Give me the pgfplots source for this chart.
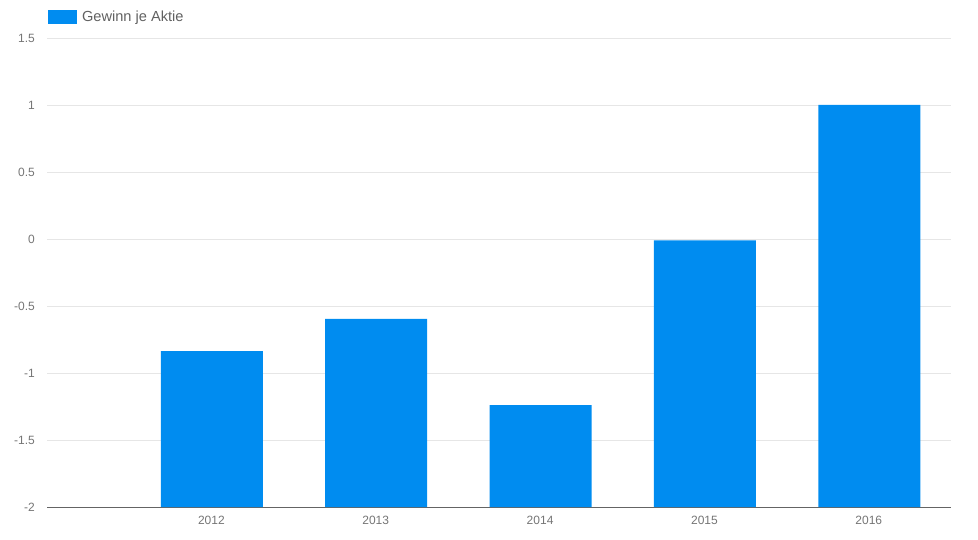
\documentclass[border=0pt]{standalone}
\usepackage{pgfplots}
\pgfplotsset{compat=1.18}
\usepackage{fontspec}
\setmainfont{Liberation Sans}
\definecolor{barblue}{RGB}{0,140,240}
\definecolor{gridgray}{RGB}{230,230,230}
\definecolor{ticktext}{RGB}{117,117,117}
\definecolor{legtext}{RGB}{97,97,97}
\definecolor{axisgray}{RGB}{100,100,100}
\begin{document}
\begin{tikzpicture}[x=1pt,y=1pt]
\path[use as bounding box] (0,0) rectangle (978,539);
\begin{axis}[
  at={(47pt,32pt)}, anchor=south west,
  scale only axis, width=904pt, height=469pt,
  xmin=0, xmax=5.5, ymin=0, ymax=3.5,
  xtick={1,2,3,4,5},
  xticklabels={2012,2013,2014,2015,2016},
  ytick={0,0.5,1,1.5,2,2.5,3,3.5},
  yticklabels={-2,-1.5,-1,-0.5,0,0.5,1,1.5},
  axis lines*=left,
  y axis line style={draw=none},
  x axis line style={draw=axisgray, line width=1pt},
  major tick length=0pt,
  ymajorgrids, grid style={gridgray, line width=0.8pt},
  tick label style={font=\fontsize{12}{14}\selectfont, text=ticktext},
  yticklabel style={anchor=east, inner sep=0pt, xshift=-12pt},
  xticklabel style={anchor=north, inner sep=0pt, yshift=-9pt},
  ybar, bar width=102pt, bar shift=0.5pt,
  legend style={at={(0.001,1.045)}, anchor=west, draw=none, fill=none,
    inner sep=0pt, font=\fontsize{14.6}{16}\selectfont, text=legtext},
  legend image code/.code={\fill[barblue] (0pt,-7pt) rectangle (29pt,7pt);},
  legend cell align=left,
]
\addplot[fill=barblue, draw=none] table[x=x, y expr=\thisrow{v}+2] {
x v
1 -0.836
2 -0.597
3 -1.239
4 -0.01
5 1.0
};
\addlegendentry{\hspace{3pt}Gewinn je Aktie}
\end{axis}
\end{tikzpicture}
\end{document}
